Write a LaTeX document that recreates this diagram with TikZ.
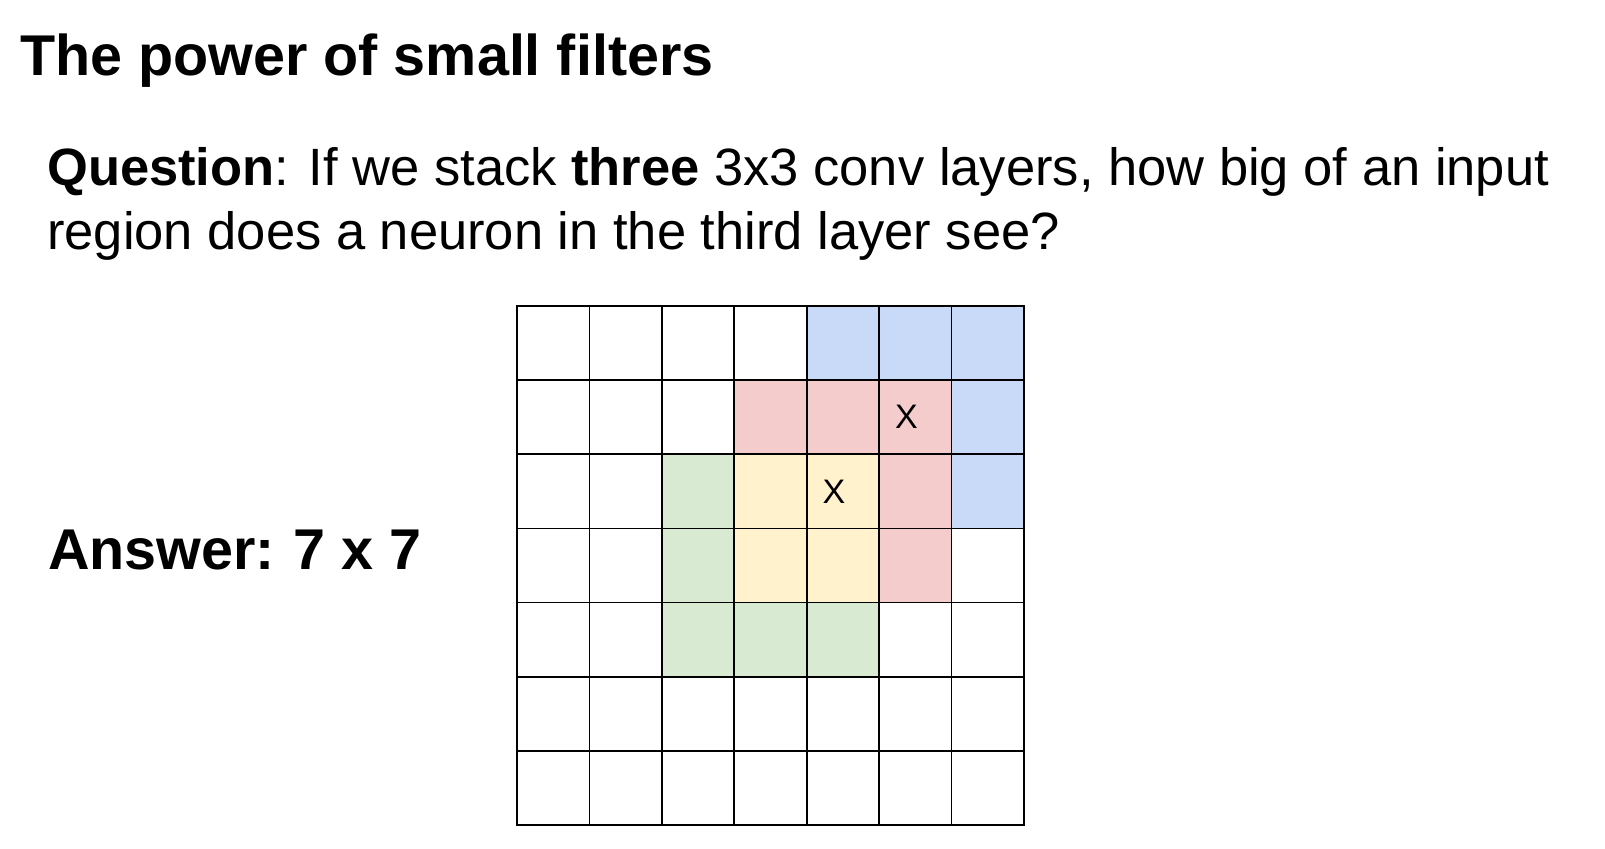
\documentclass[tikz,border=0pt]{standalone}
\usepackage{fontspec}
\setmainfont{Liberation Sans}
\usetikzlibrary{positioning}
\definecolor{cellblue}{HTML}{C9DAF8}
\definecolor{cellred}{HTML}{F4CCCC}
\definecolor{cellgreen}{HTML}{D9EAD3}
\definecolor{cellyellow}{HTML}{FFF2CC}

\begin{document}
\begin{tikzpicture}[x=1pt, y=-1pt,
                    heading/.style={anchor=base west, inner sep=0pt, font={\fontsize{57.5}{69}\selectfont\bfseries}},
                    bodytext/.style={anchor=base west, inner sep=0pt, font={\fontsize{52.5}{64}\selectfont}},
                    gridline/.style={line width=1.8pt, black, line cap=rect},
                    mark x/.style={xshift=-9pt, font={\fontsize{34}{40}\selectfont}}]
                     \useasboundingbox[fill=white] (0,0) rectangle (1605,848);
                     \node[heading] (title) at (20,76) {The power of small filters};
                     \node[bodytext] (q1) at (47,185) {\textbf{Question}: If we stack \textbf{three} 3x3 conv layers, how big of an input};
                     \node[bodytext] (q2) at ([yshift=-64pt]q1.base west) {region does a neuron in the third layer see?};
                     \node[heading] (answer) at (48,569) {Answer:\hspace{-3pt} 7 x 7};
                     % receptive field grid, one unit = one cell
                     \begin{scope}[shift={(517,306)}, x=72.43pt, y=-74.14pt]
                         \fill[cellblue] (4,0) rectangle (7,3);
                         \fill[cellred] (3,1) rectangle (6,4);
                         \fill[cellgreen] (2,2) rectangle (5,5);
                         \fill[cellyellow] (3,2) rectangle (5,4);
                         \foreach \k in {0,...,7} {
                             \draw[gridline] (\k,0) -- (\k,7);
                             \draw[gridline] (0,\k) -- (7,\k);
                         }
                         \node[mark x] (x2) at (5.5,1.5) {X};
                         \node[mark x] (x1) at (4.5,2.5) {X};
                     \end{scope}
                 \end{tikzpicture}
\end{document}
